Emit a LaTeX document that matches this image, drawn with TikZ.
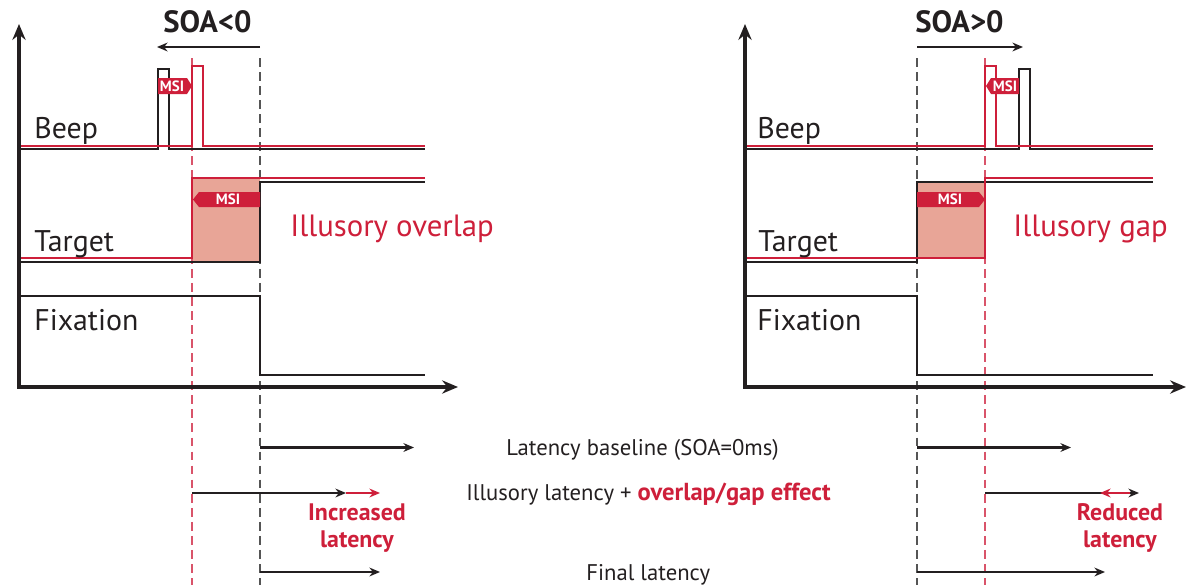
\documentclass[tikz,border=0pt]{standalone}
\usepackage{fontspec}
\setmainfont{PT Sans}
\usetikzlibrary{arrows.meta}
\definecolor{msired}{HTML}{CE1F3A}
\definecolor{boxfill}{HTML}{E8A597}
\definecolor{dashgray}{HTML}{555555}
\definecolor{dashred}{HTML}{D9546A}
\definecolor{ink}{HTML}{231F20}
\begin{document}
\begin{tikzpicture}[x=0.02cm,y=-0.02cm,
  axis/.style={line width=2pt,draw=ink,line join=miter,{Stealth[length=9pt,width=7.5pt]}-{Stealth[length=9pt,width=7.5pt]}},
  sigblack/.style={line width=1.1pt,draw=ink},
  sigred/.style={line width=1.1pt,draw=msired},
  vdash/.style={line width=0.8pt,dash pattern=on 5pt off 3pt},
  lat/.style={line width=1.15pt,draw=ink,-{Stealth[length=6pt,width=5pt]}},
  latred/.style={line width=1.15pt,draw=msired,-{Stealth[length=6pt,width=5pt]}},
  lbl/.style={font=\fontsize{17}{19}\selectfont,text=ink,anchor=base west,inner sep=0},
  big/.style={font=\fontsize{17.5}{19}\selectfont,text=msired,anchor=base west,inner sep=0},
  soa/.style={font=\bfseries\fontsize{17.5}{19}\selectfont,text=ink,anchor=base west,inner sep=0},
  small/.style={font=\fontsize{12.9}{14}\selectfont,text=ink,anchor=base west,inner sep=0},
  smallb/.style={font=\bfseries\fontsize{13.6}{15.3}\selectfont,text=msired,align=center,inner sep=0},
  tagtxt/.style={font=\bfseries\fontsize{8.5}{9}\selectfont,text=white,inner sep=0}
]
\useasboundingbox (0,0) rectangle (1194,585);

% ================= LEFT PANEL =================
\fill[boxfill] (192,178) rectangle (260,262);
\draw[vdash,dashred] (192,58) -- (192,585);
\draw[vdash,dashgray] (260,58) -- (260,585);
% beep
\draw[sigblack] (19,148.6) -- (158,148.6) -- (158,69) -- (169,69) -- (169,148.6) -- (425,148.6);
\draw[sigred] (19,145.8) -- (192,145.8) -- (192,66) -- (203,66) -- (203,145.8) -- (425,145.8);
% target
\draw[sigred] (19,258) -- (192,258) -- (192,178) -- (425,178);
\draw[sigblack] (19,262) -- (260,262) -- (260,182) -- (425,182);
% fixation
\draw[sigblack] (19,296) -- (260,296) -- (260,375) -- (425,375);
% axes
\draw[axis] (19,24) -- (19,387) -- (458,387);
% SOA
\coordinate (soaLa) at (260,47);
\coordinate (soaLb) at (157,47);
\draw[lat,line width=1.3pt] (soaLa) -- (soaLb);
\node[soa] (soaL) at (163,32) {SOA<0};
% tags
\fill[msired] (158,78) -- (187,78) -- (192,86) -- (187,94) -- (158,94) -- cycle;
\node[tagtxt] (msiL1) at (172,86) {MSI};
\fill[msired] (199,192) -- (260,192) -- (260,207) -- (199,207) -- (193,199.5) -- cycle;
\node[tagtxt] (msiL2) at (228,199.5) {MSI};
% labels
\node[lbl] (beepL) at (34,138) {Beep};
\node[lbl] (targetL) at (34,251) {Target};
\node[lbl] (fixL) at (34,330) {Fixation};
\node[big] (overlap) at (290,236) {Illusory overlap};
% latency arrows
\coordinate (l1a) at (260,447.5); \coordinate (l1b) at (414,447.5);
\draw[lat] (l1a) -- (l1b);
\coordinate (l2a) at (192,493); \coordinate (l2b) at (346,493); \coordinate (l2c) at (380,493);
\draw[latred] (l2b) -- (l2c);
\draw[lat] (l2a) -- (l2b);
\coordinate (l3a) at (260,572); \coordinate (l3b) at (380,572);
\draw[lat] (l3a) -- (l3b);
\node[smallb,anchor=base] (incr) at (357,547) {Increased\\latency};

% ================= RIGHT PANEL =================
\fill[boxfill] (917,182) rectangle (985,258);
\draw[vdash,dashgray] (917,58) -- (917,585);
\draw[vdash,dashred] (985,58) -- (985,585);
% beep
\draw[sigblack] (745,148.6) -- (1019,148.6) -- (1019,69) -- (1030,69) -- (1030,148.6) -- (1153,148.6);
\draw[sigred] (745,145.8) -- (985,145.8) -- (985,66) -- (996,66) -- (996,145.8) -- (1153,145.8);
% target
\draw[sigblack] (745,262) -- (917,262) -- (917,182) -- (1153,182);
\draw[sigred] (745,258) -- (985,258) -- (985,178) -- (1153,178);
% fixation
\draw[sigblack] (745,296) -- (917,296) -- (917,375) -- (1153,375);
% axes
\draw[axis] (745,24) -- (745,387) -- (1186,387);
% SOA
\coordinate (soaRa) at (917,47);
\coordinate (soaRb) at (1023,47);
\draw[lat,line width=1.3pt] (soaRa) -- (soaRb);
\node[soa] (soaR) at (915,32) {SOA>0};
% tags
\fill[msired] (991,78) -- (1019,78) -- (1019,94) -- (991,94) -- (986,86) -- cycle;
\node[tagtxt] (msiR1) at (1005,86) {MSI};
\fill[msired] (917,192) -- (979,192) -- (985,199.5) -- (979,207) -- (917,207) -- cycle;
\node[tagtxt] (msiR2) at (950,199.5) {MSI};
% labels
\node[lbl] (beepR) at (757,138) {Beep};
\node[lbl] (targetR) at (758,251) {Target};
\node[lbl] (fixR) at (757,330) {Fixation};
\node[big] (gap) at (1013,236) {Illusory gap};
% latency arrows
\coordinate (r1a) at (917,447.5); \coordinate (r1b) at (1071,447.5);
\draw[lat] (r1a) -- (r1b);
\coordinate (r2a) at (985,493); \coordinate (r2b) at (1139,493); \coordinate (r2c) at (1100,493); \coordinate (r2d) at (1130,493);
\draw[lat] (r2a) -- (r2b);
\draw[latred] (r2d) -- (r2c);
\coordinate (r3a) at (917,572); \coordinate (r3b) at (1105,572);
\draw[lat] (r3a) -- (r3b);
\node[smallb,anchor=base] (reduc) at (1120,547) {Reduced\\latency};

% ================= CENTRE TEXTS =================
\node[small] (base) at (506,455) {Latency baseline (SOA=0ms)};
\node[small] (illus) at (466,500) {Illusory latency + \textcolor{msired}{\bfseries\fontsize{14}{14}\selectfont overlap/gap effect}};
\node[small] (final) at (586,580) {Final latency};
\end{tikzpicture}
\end{document}
